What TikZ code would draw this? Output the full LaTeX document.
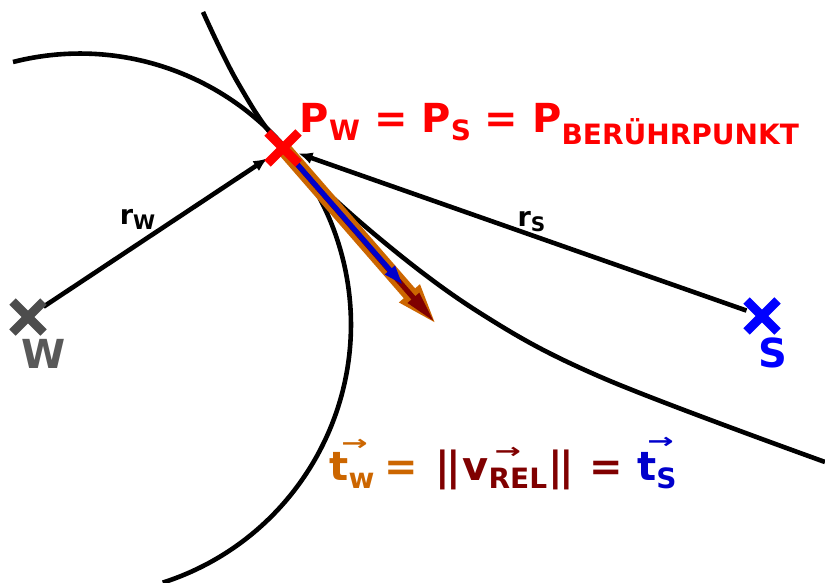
\documentclass[tikz,border=0pt]{standalone}
\usepackage{fontspec}
\setmainfont{DejaVu Sans}
\usepackage{graphicx}
\usetikzlibrary{arrows.meta,positioning,shapes.misc,backgrounds}
\definecolor{BPRed}{HTML}{FF0000}
\definecolor{BPBlue}{HTML}{0000FF}
\definecolor{BPDeepBlue}{HTML}{0000CC}
\definecolor{BPOrange}{HTML}{CC6600}
\definecolor{BPMaroon}{HTML}{800000}
\definecolor{BPGray}{HTML}{4D4D4D}
\definecolor{BPGrayText}{HTML}{595959}
\newcommand{\bpsub}[2][4pt]{\raisebox{-#1}{\fontsize{14}{14}\selectfont #2}}
\newcommand{\bprsub}[1]{\raisebox{-2.5pt}{\fontsize{10}{10}\selectfont #1}}
\newcommand{\bpvec}[2]{\makebox[0pt][l]{\hspace{#1}\raisebox{#2}{\scalebox{1.05}[0.7]{\fontsize{15}{15}\selectfont →}}}}
\tikzset{
  >={Latex[length=7pt,width=6pt]},
  bpcurve/.style={line width=2.3pt, draw=black},
  bpradius/.style={->, line width=2.3pt, draw=black},
  bpcross/.style={cross out, draw=#1, line width=4.5pt, minimum size=11pt,
    inner sep=0pt},
  bplabel/.style={font=\fontsize{13.5}{14}\selectfont\bfseries, inner sep=0pt},
  bpbig/.style={font=\fontsize{20}{24}\selectfont\bfseries, inner sep=0pt},
  bptw/.style={-{Triangle[length=21pt,width=12pt]}, line width=7.5pt,
    draw=BPOrange},
  bpvrel/.style={-{Triangle[length=16pt,width=7pt]}, line width=2.6pt,
    draw=BPMaroon, shorten >=2pt},
  bpts/.style={-{Triangle[length=10pt,width=6pt]}, line width=2.6pt,
    draw=BPDeepBlue}
}
\begin{document}
\begin{tikzpicture}[x=0.5pt, y=-0.5pt]
  \useasboundingbox (0,0) rectangle (825,583);

  \node[bpcross=BPGray] (W) at (28,317) {};
  \node[bpcross=BPBlue] (S) at (762,316) {};
  \node[bpcross=BPRed] (P) at (283,148) {};

  \node[bpbig, text=BPGrayText, below=3pt of W, xshift=8pt] (Wlabel) {W};
  \node[bpbig, text=BPBlue, below=3pt of S, xshift=5.5pt] (Slabel) {S};
  \node[bpbig, text=BPRed, above right=-6.5pt and 0.5pt of P] (Plabel)
    {P\bpsub{W} = P\bpsub{S} = P\bpsub[6pt]{BERÜHRPUNKT}};

  \coordinate (vtip) at (437,325);
  \coordinate (ttip) at (403,285);

  \node[bpbig, anchor=base west] (vrel) at (329,480)
    {\textcolor{BPOrange}{\bpvec{6pt}{15pt}t\bpsub{w}\hspace{5pt}=}\hspace{9pt}%
     \textcolor{BPMaroon}{|\kern-1.8pt|\hspace{0.5pt}\bpvec{16pt}{11pt}v\bpsub{REL}\hspace{0.5pt}|\kern-1.8pt|\hspace{8pt}=}\hspace{7pt}%
     \textcolor{BPDeepBlue}{\bpvec{5pt}{16pt}t\bpsub{S}}};

  \begin{scope}[on background layer]
    \draw[bpcurve] (13,62) arc[start angle=-104.3, end angle=72.2, radius=271];
    \draw[bpcurve] plot[smooth, tension=0.6] coordinates
      {(203,12) (238,83) (283,148) (373,233) (480,313) (603,378) (825,462)};

    \draw[bpradius] (W) -- node[bplabel, above=6.5pt, pos=0.42] (rW) {r\bprsub{W}} (P);
    \draw[bpradius] (S) -- node[bplabel, above=0.5pt, pos=0.48] (rS) {r\bprsub{S}} (P);

    \draw[bptw] (P.center) -- (vtip);
    \draw[bpvrel] (P.center) -- (vtip);
    \draw[bpts] (P.center) -- (ttip);
  \end{scope}
\end{tikzpicture}
\end{document}
